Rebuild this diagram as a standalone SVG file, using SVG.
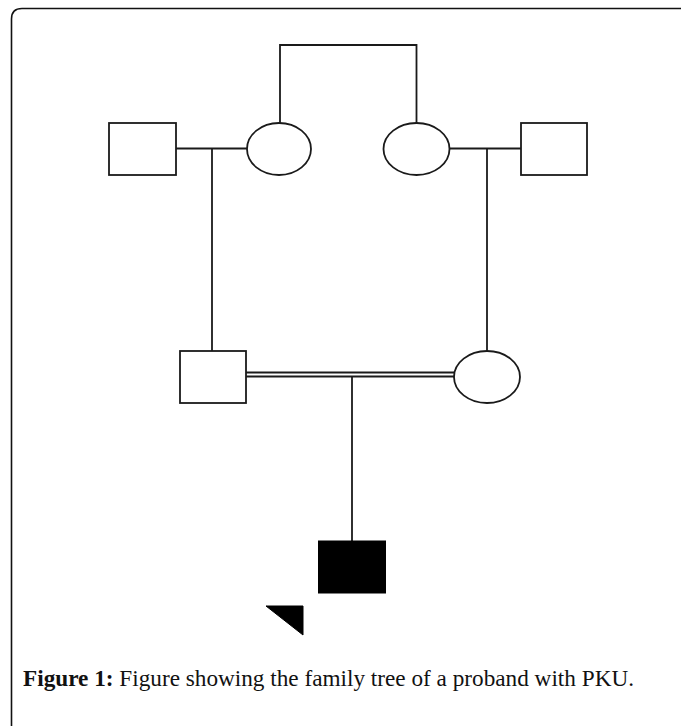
<svg xmlns="http://www.w3.org/2000/svg" width="681" height="726" viewBox="0 0 681 726">
<style>
.s{fill:#fff;stroke:#1a1a1a;stroke-width:1.8}
.f{fill:#000;stroke:#000;stroke-width:1}
.c{fill:none;stroke:#1a1a1a;stroke-width:1.8}
.cap{font-family:"Liberation Serif","Times New Roman",serif;font-size:23.2px;fill:#111}
</style>
<rect width="681" height="726" fill="#fff"/>
<path d="M11.5,726 V19 Q11.5,8.5 22,8.5 H681" fill="none" stroke="#111" stroke-width="1.6"/>
<g id="connectors">
<path class="c" d="M280,123 V45 H416.5 V123"/>
<path class="c" d="M176,148.5 H247"/>
<path class="c" d="M212,148.5 V351"/>
<path class="c" d="M450,148.5 H521"/>
<path class="c" d="M487,148.5 V351"/>
<path class="c" d="M246,372.5 H454"/>
<path class="c" d="M246,376.5 H454"/>
<path class="c" d="M352,376.5 V541"/>
</g>
<g id="grandfather1"><rect class="s" x="109" y="123" width="67" height="52"/></g>
<g id="grandmother1"><ellipse class="s" cx="279" cy="149" rx="32" ry="26"/></g>
<g id="grandmother2"><ellipse class="s" cx="416.5" cy="149" rx="33" ry="26"/></g>
<g id="grandfather2"><rect class="s" x="521" y="123" width="66" height="52"/></g>
<g id="father"><rect class="s" x="180" y="351" width="66" height="52"/></g>
<g id="mother"><ellipse class="s" cx="487" cy="377" rx="33" ry="26"/></g>
<g id="proband"><rect class="f" x="318.5" y="541" width="67" height="52"/></g>
<g id="proband-arrow"><polygon class="f" points="266,606 303,606 303,635"/></g>
<text class="cap" x="23" y="686" textLength="611" lengthAdjust="spacingAndGlyphs"><tspan font-weight="bold">Figure 1:</tspan> Figure showing the family tree of a proband with PKU.</text>
</svg>
